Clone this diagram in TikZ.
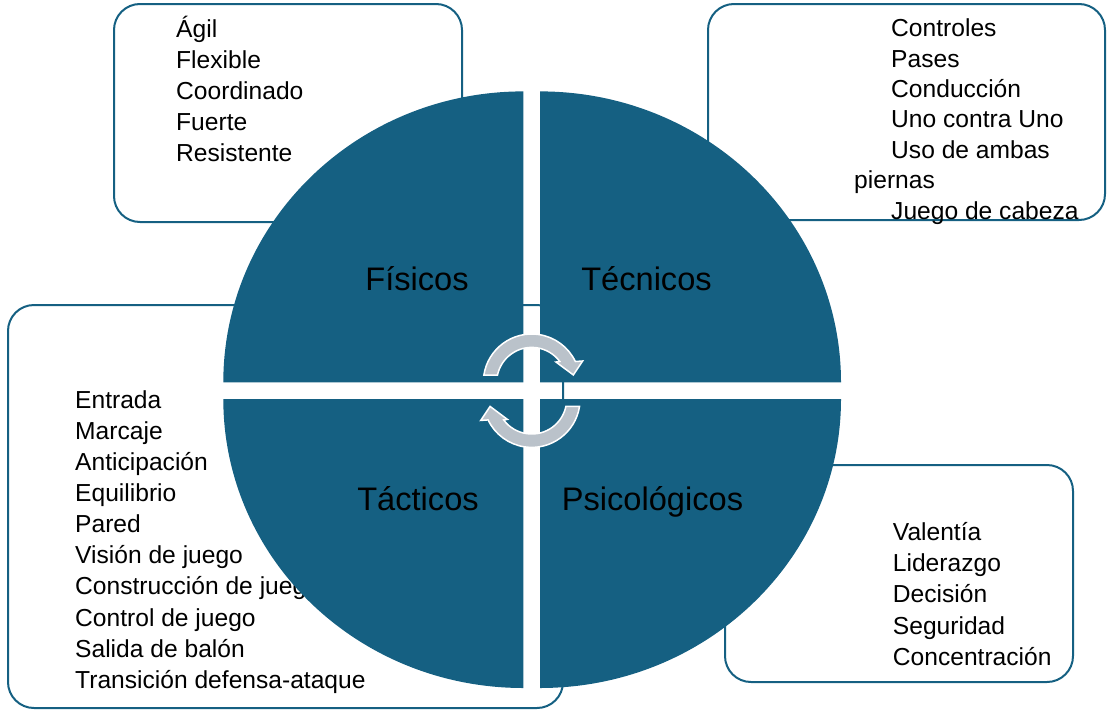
\documentclass[tikz,border=0pt]{standalone}
\usepackage{fontspec}
\setmainfont{Liberation Sans}
\definecolor{segblue}{RGB}{21,96,130}
\definecolor{cyclegray}{RGB}{186,194,202}
\begin{document}
\begin{tikzpicture}
[x=1pt,y=-1pt,%
  boxDecorate/.style={draw=segblue,line width=2pt,rounded corners=26pt},%
  quadDecorate/.style={fill=segblue},%
  itemDecorate/.style={anchor=base west,inner sep=0pt,font=\fontsize{24.6}{31}\selectfont},%
  labelDecorate/.style={anchor=base,inner sep=0pt,font=\fontsize{32.6}{38}\selectfont},%
  arrowDecorate/.style={fill=cyclegray,draw=white,line width=1.5pt}]
\useasboundingbox (0,0) rectangle (1107,712);
%% boxes behind the circle
\draw[boxDecorate] (114,4) rectangle (462,222);
\draw[boxDecorate] (708,4) rectangle (1105,220);
\draw[boxDecorate] (8,305) rectangle (563,708);
\draw[boxDecorate] (725,465) rectangle (1073,682);
%% list texts
\foreach \txt [count=\i from 0] in {Ágil, Flexible, Coordinado, Fuerte, Resistente}
{
  \node[itemDecorate] (fis\i) at (176,{37.3+31*\i}) {\txt};
}
\foreach \x/\txt [count=\i from 0] in {891/Controles, 891/Pases, 891/Conducción,
  891/Uno contra Uno, 891/Uso de ambas, 854/piernas, 891/Juego de cabeza}
{
  \node[itemDecorate] (tec\i) at (\x,{36.7+30.4*\i}) {\txt};
}
\foreach \txt [count=\i from 0] in {Entrada, Marcaje, Anticipación, Equilibrio, Pared,
  Visión de juego, Construcción de juego, Control de juego, Salida de balón,
  Transición defensa-ataque}
{
  \node[itemDecorate] (tac\i) at (75,{408.3+31.1*\i}) {\txt};
}
\foreach \txt [count=\i from 0] in {Valentía, Liderazgo, Decisión, Seguridad, Concentración}
{
  \node[itemDecorate] (psi\i) at (892.7,{540.7+31.1*\i}) {\txt};
}
%% quadrants
\coordinate (ctr) at (531.7,390.7);
\fill[quadDecorate] (523.3,382.4) -- ++(-300,0)
  arc[start angle=180,end angle=270,x radius=300,y radius=291] -- cycle;
\fill[quadDecorate] (540,382.4) -- ++(301,0)
  arc[start angle=0,end angle=-90,x radius=301,y radius=291] -- cycle;
\fill[quadDecorate] (523.3,399) -- ++(-300,0)
  arc[start angle=180,end angle=90,x radius=300,y radius=289] -- cycle;
\fill[quadDecorate] (540,399) -- ++(301,0)
  arc[start angle=0,end angle=90,x radius=301,y radius=289] -- cycle;
%% quadrant labels
\node[labelDecorate] (fisicos) at (417,290) {Físicos};
\node[labelDecorate] (tecnicos) at (646.5,290) {Técnicos};
\node[labelDecorate] (tacticos) at (418,510) {Tácticos};
\node[labelDecorate] (psico) at (652.5,510) {Psicológicos};
%% cycle arrows
\foreach \rot in {0,180}
{
  \begin{scope}[rotate around={\rot:(ctr)},shift={(531.7,382.4)}]
    \draw[arrowDecorate] (188.8:48.4) arc[start angle=188.8,end angle=334.4,radius=48.4]
      -- (337.2:55.3) -- (349.9:42.3) -- (320:31.7) -- (323.3:35)
      arc[start angle=323.3,end angle=192.2,radius=35] -- cycle;
  \end{scope}
}
\end{tikzpicture}
\end{document}
